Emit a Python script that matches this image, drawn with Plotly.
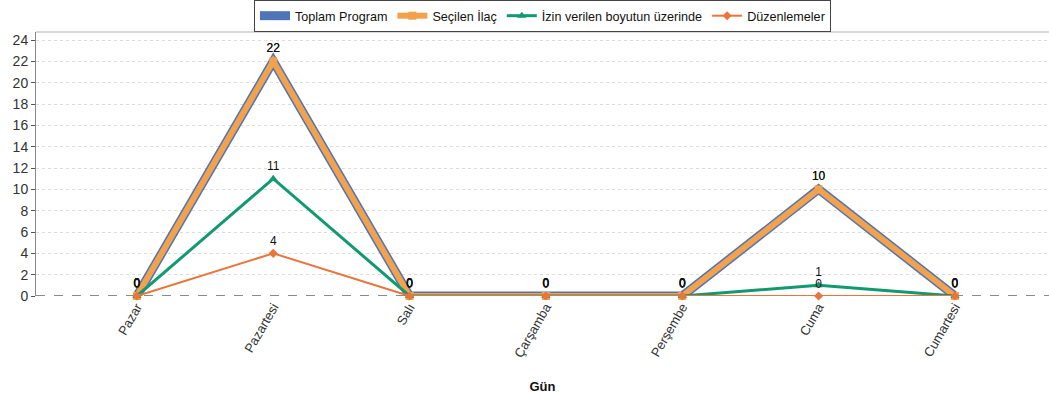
import plotly.graph_objects as go

# Haftanın günleri ve seriler
gunler = ["Pazar", "Pazartesi", "Salı", "Çarşamba", "Perşembe", "Cuma", "Cumartesi"]
toplam_program = [0, 22, 0, 0, 0, 10, 0]
secilen_ilac = [0, 22, 0, 0, 0, 10, 0]
izin_uzerinde = [0, 11, 0, 0, 0, 1, 0]
duzenlemeler = [0, 4, 0, 0, 0, 0, 0]

y_ticks = list(range(0, 25, 2))

series = [
    ("Toplam Program", toplam_program, "#4f74b8", 9, "circle", 8),
    ("Seçilen İlaç", secilen_ilac, "#f2a24c", 6, "square", 8),
    ("İzin verilen boyutun üzerinde", izin_uzerinde, "#119a72", 3, "triangle-up", 8),
    ("Düzenlemeler", duzenlemeler, "#e9743c", 2, "diamond", 7),
]

fig = go.Figure()
for name, vals, color, width, symbol, msize in series:
    fig.add_trace(go.Scatter(
        x=gunler, y=vals, name=name,
        mode="lines+markers+text",
        line=dict(color=color, width=width),
        marker=dict(color=color, symbol=symbol, size=msize),
        text=[str(v) for v in vals],
        textposition="top center",
        textfont=dict(family="Liberation Sans, Arial, sans-serif", size=12, color="#111"),
        cliponaxis=False,
    ))

# kesikli sıfır ekseni çizgisi
fig.add_shape(type="line", xref="paper", yref="y", x0=0, x1=1, y0=0, y1=0,
              line=dict(color="#8a8a8a", width=2, dash="dash"), layer="below")

fig.update_layout(
    width=1049, height=404,
    margin=dict(l=36, r=0, t=32, b=108),
    paper_bgcolor="white", plot_bgcolor="white",
    font=dict(family="Liberation Sans, Arial, sans-serif", size=13, color="#333"),
    showlegend=True,
    legend=dict(
        orientation="h", x=0.5, xanchor="center", y=1.0, yanchor="bottom",
        bordercolor="#444", borderwidth=1, bgcolor="white",
        font=dict(size=12.6, color="#111"),
        itemwidth=30, tracegroupgap=0,
    ),
    xaxis=dict(
        range=[-0.74, 6.69],
        tickangle=-60,
        tickfont=dict(size=13, color="#333"),
        showgrid=False, zeroline=False, showline=False,
        title=dict(text="<b>Gün</b>", font=dict(size=13, color="#111"), standoff=22),
    ),
    yaxis=dict(
        range=[0, 24.75],
        tickvals=y_ticks,
        tickfont=dict(size=14, color="#333"),
        showgrid=True, gridcolor="#dcdcdc", griddash="dot", gridwidth=1,
        zeroline=False,
        showline=True, linecolor="#888", linewidth=1,
        ticks="outside", ticklen=4, tickcolor="#555",
    ),
)

# üst kenar çizgisi
fig.add_shape(type="line", xref="paper", yref="paper", x0=0, x1=1, y0=1, y1=1,
              line=dict(color="#d8d8d8", width=2))

fig.write_html("out.html")
